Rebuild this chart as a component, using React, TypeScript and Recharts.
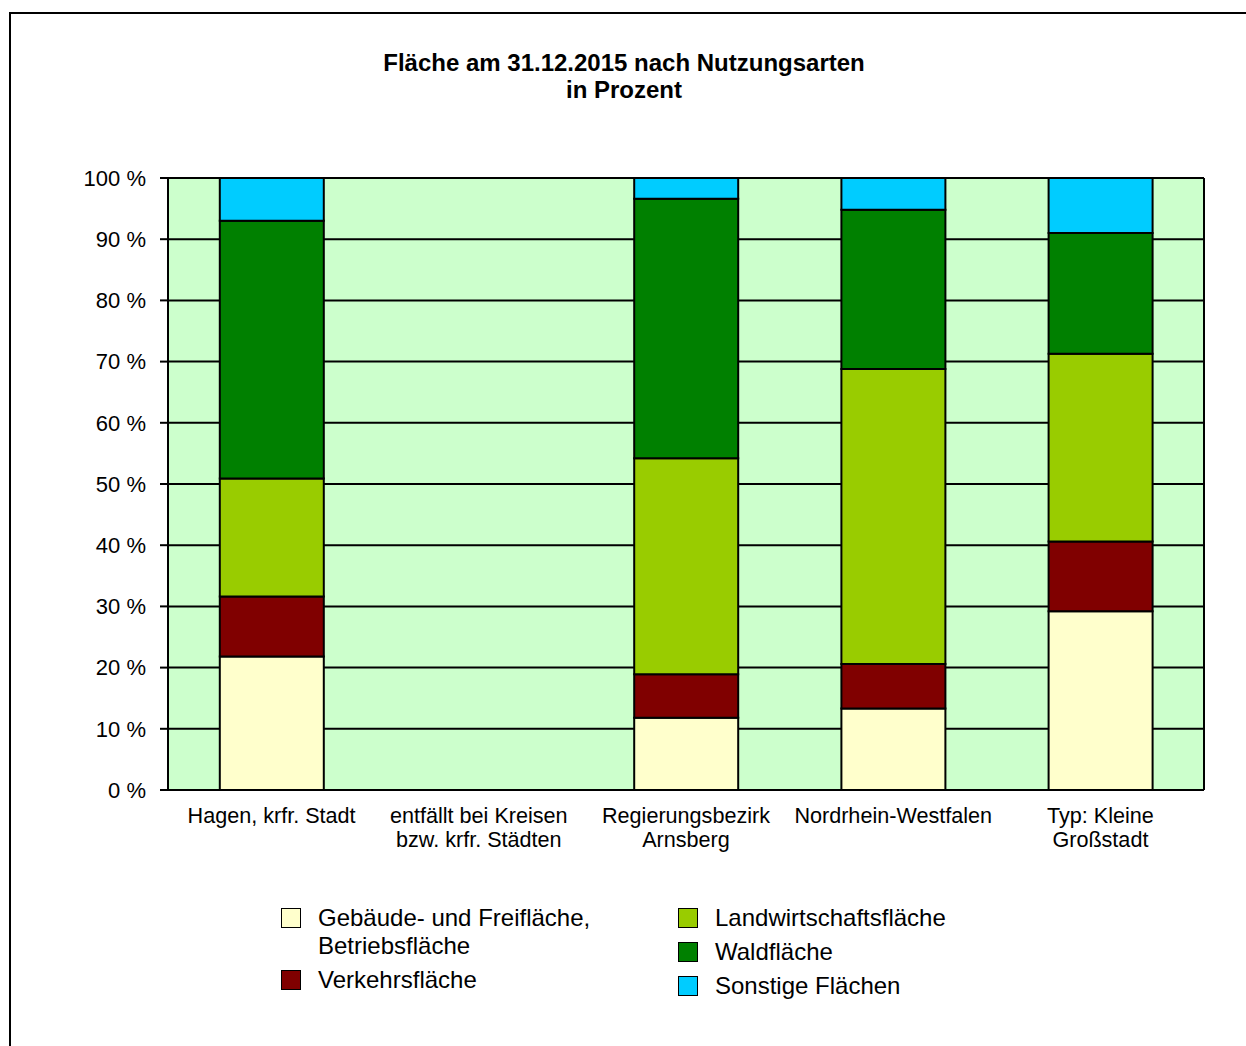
import React from "react";
import { BarChart, Bar, XAxis, YAxis, CartesianGrid } from "recharts";

const categories = [
  "Hagen, krfr. Stadt",
  "entfällt bei Kreisen\nbzw. krfr. Städten",
  "Regierungsbezirk\nArnsberg",
  "Nordrhein-Westfalen",
  "Typ: Kleine\nGroßstadt",
];

// percentages per category (null = no data)
const gebaeude = [21.8, null, 11.8, 13.3, 29.2];
const verkehr = [9.8, null, 7.1, 7.3, 11.4];
const landwirtschaft = [19.3, null, 35.3, 48.2, 30.7];
const wald = [42.1, null, 42.4, 26.0, 19.7];
const sonstige = [7.0, null, 3.4, 5.2, 9.0];

const yTicks = [0, 10, 20, 30, 40, 50, 60, 70, 80, 90, 100];

const series = [
  { key: "gebaeude", name: "Gebäude- und Freifläche,\nBetriebsfläche", color: "#FFFFCC", values: gebaeude },
  { key: "verkehr", name: "Verkehrsfläche", color: "#800000", values: verkehr },
  { key: "landwirtschaft", name: "Landwirtschaftsfläche", color: "#99CC00", values: landwirtschaft },
  { key: "wald", name: "Waldfläche", color: "#008000", values: wald },
  { key: "sonstige", name: "Sonstige Flächen", color: "#00CCFF", values: sonstige },
];

const data = categories.map((name, i) => {
  const row: Record<string, string | number | null> = { name };
  series.forEach((s) => {
    row[s.key] = s.values[i];
  });
  return row;
});

const FONT = '"Liberation Sans", Arial, sans-serif';

function CategoryTick(props: any) {
  const { x, y, payload } = props;
  const lines = String(payload.value).split("\n");
  return (
    <text x={x} y={y} textAnchor="middle" fontSize={21.6} fontFamily={FONT} fill="#000">
      {lines.map((l, i) => (
        <tspan key={i} x={x} dy={i === 0 ? 33 : 24}>
          {l}
        </tspan>
      ))}
    </text>
  );
}

function LegendItem({ name, color }: { name: string; color: string }) {
  return (
    <div style={{ display: "flex", alignItems: "flex-start", marginBottom: 6 }}>
      <div
        style={{
          width: 18,
          height: 18,
          marginTop: 4,
          background: color,
          border: "1.5px solid #000",
          marginRight: 17,
          flexShrink: 0,
        }}
      />
      <div style={{ whiteSpace: "pre", lineHeight: "28px" }}>{name}</div>
    </div>
  );
}

export default function App() {
  const leftCol = [series[0], series[1]];
  const rightCol = [series[2], series[3], series[4]];
  return (
    <div
      style={{
        position: "absolute",
        left: 0,
        top: 0,
        width: 1246,
        height: 1046,
        background: "#fff",
        fontFamily: FONT,
        overflow: "hidden",
      }}
    >
      <div
        style={{
          position: "absolute",
          left: 9,
          top: 12,
          width: 1300,
          height: 1100,
          borderTop: "2px solid #000",
          borderLeft: "2px solid #000",
        }}
      />
      <div
        style={{
          position: "absolute",
          left: 274,
          width: 700,
          top: 49,
          textAlign: "center",
          fontWeight: "bold",
          fontSize: 24,
          lineHeight: "27px",
        }}
      >
        Fläche am 31.12.2015 nach Nutzungsarten
        <br />
        in Prozent
      </div>

      <div style={{ position: "absolute", left: 0, top: 0 }}>
        <BarChart
          width={1246}
          height={1046}
          data={data}
          margin={{ top: 178, right: 41, bottom: 196, left: 80 }}
          barCategoryGap="25%"
        >
          <CartesianGrid
            vertical={false}
            stroke="#000"
            strokeWidth={2}
            fill="#CCFFCC"
            fillOpacity={1}
            yAxisId="left"
          />
          <XAxis
            dataKey="name"
            tickLine={false}
            tickSize={0}
            tickMargin={0}
            height={60}
            interval={0}
            axisLine={{ stroke: "#000", strokeWidth: 2 }}
            tick={<CategoryTick />}
          />
          <YAxis
            yAxisId="left"
            width={88}
            domain={[0, 100]}
            ticks={yTicks}
            interval={0}
            tickSize={8}
            tickMargin={14}
            tickLine={{ stroke: "#000", strokeWidth: 2 }}
            axisLine={{ stroke: "#000", strokeWidth: 2 }}
            tickFormatter={(v) => `${v} %`}
            tick={{ fill: "#000", fontSize: 22, fontFamily: FONT }}
          />
          <YAxis
            yAxisId="right"
            orientation="right"
            width={1}
            domain={[0, 100]}
            ticks={yTicks}
            tick={false}
            tickLine={false}
            axisLine={{ stroke: "#000", strokeWidth: 2 }}
          />
          {series.map((s) => (
            <Bar
              key={s.key}
              dataKey={s.key}
              stackId="a"
              yAxisId="left"
              fill={s.color}
              stroke="#000"
              strokeWidth={2}
              isAnimationActive={false}
            />
          ))}
        </BarChart>
      </div>

      <div style={{ position: "absolute", left: 281, top: 904, fontSize: 24 }}>
        {leftCol.map((s) => (
          <div key={s.key} style={{ marginBottom: 4 }}>
            <LegendItem name={s.name} color={s.color} />
          </div>
        ))}
      </div>
      <div style={{ position: "absolute", left: 678, top: 904, fontSize: 24 }}>
        {rightCol.map((s) => (
          <LegendItem key={s.key} name={s.name} color={s.color} />
        ))}
      </div>
    </div>
  );
}
